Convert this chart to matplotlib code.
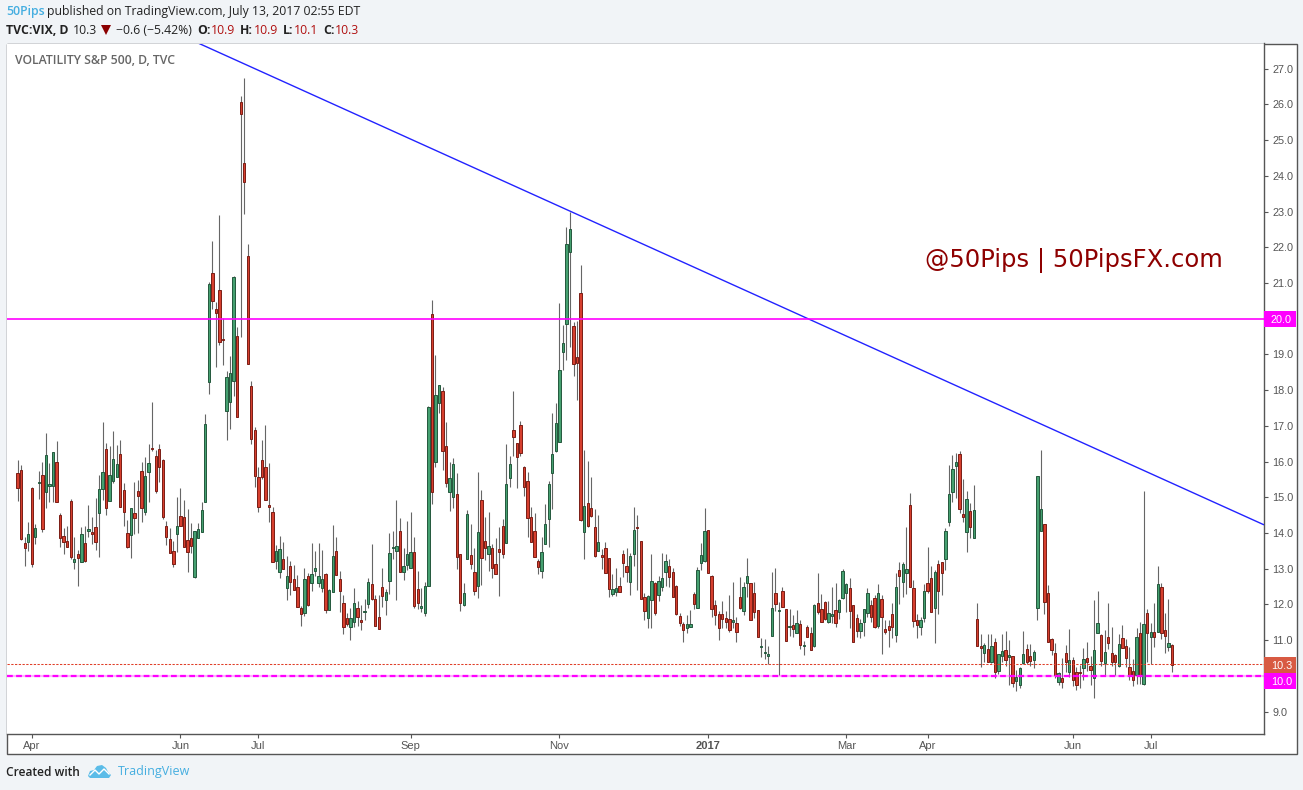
import matplotlib
matplotlib.use("Agg")
import matplotlib.pyplot as plt
from matplotlib.patches import Rectangle, Polygon

# ---- data (VIX daily candles) ----
directions = ("RRRGRGGRGG" "GRRRRRGRGR" "GRRGGRGGGR" "RRGRRRGGRR" "RRRRRGRRRR"
              "GGGGGRRRRG" "GGRRRRRRRR" "RRRGGRGRRR" "RGRGGGGRGG" "RRRRGGRRGG"
              "RRRRGGGGRG" "GGRRGGGRGG" "RRGGRRGGRR" "GRRGRRRRGG" "RRRRRRRRGG"
              "GGGGGGGRRR" "GRRRGRRRGG" "RRRGGRRRGG" "RGGGRRRRRG" "GRGGGRRRRR"
              "RRGRRGGRRR" "GGGGRGRRGR" "GRGRRGRRRG" "GRGGGRRRGG" "GRRGRRRRGR"
              "GGRRRGGRRG" "RRGGGGRRGR" "GRRGRGRGGR" "GRGGGRRGGG" "RRRRGRRGRR"
              "RGRRGGRGRR" "RGRRRRGRGR" "GRGRRGR")

highs = [
 16.05,15.91,13.90,14.32,15.30,14.26,15.75,16.00,16.80,15.97,
 16.27,16.57,14.57,14.15,14.20,14.96,13.90,13.53,14.18,14.20,
 14.79,14.46,14.99,15.62,17.11,16.53,16.43,16.86,16.47,16.61,
 15.40,14.36,14.70,15.44,15.49,16.00,16.14,16.50,17.67,16.32,
 16.49,16.08,14.33,14.15,13.77,15.01,15.27,14.93,14.68,14.29,
 14.07,14.29,14.88,17.33,21.03,22.17,20.47,22.90,20.03,18.54,
 18.97,21.21,19.78,26.24,26.74,22.09,18.27,16.98,15.84,16.61,
 17.03,15.96,14.73,13.67,13.91,13.76,13.35,13.21,13.10,12.82,
 11.96,13.03,12.87,13.72,13.49,13.72,13.52,12.87,12.43,14.22,
 13.89,12.95,12.26,11.76,11.89,12.47,12.09,11.98,12.14,12.75,
 13.69,12.26,12.26,13.01,12.43,14.01,14.07,14.92,14.43,13.57,
 14.33,14.59,13.89,12.94,12.47,12.63,17.57,20.53,18.99,18.14,
 18.09,17.11,16.00,16.11,15.68,13.42,12.61,14.65,14.26,13.58,
 15.72,15.21,14.46,14.59,13.69,13.86,14.18,14.40,16.50,16.16,
 17.98,16.52,17.14,15.88,15.72,14.73,14.57,13.27,13.89,14.82,
 15.46,17.36,17.65,20.45,19.83,22.56,23.00,19.91,19.93,21.51,
 16.33,16.02,15.58,14.68,14.51,13.55,13.75,13.30,12.86,13.02,
 12.78,13.53,13.58,13.44,14.72,14.50,13.77,12.32,12.26,13.42,
 12.63,12.79,13.45,13.42,13.27,13.01,12.54,11.76,11.51,11.71,
 11.84,12.35,13.05,13.72,14.71,14.09,12.83,12.12,11.83,12.10,
 11.81,12.26,12.63,11.65,12.77,12.63,13.30,12.60,12.63,11.85,
 11.06,11.03,10.83,12.91,13.02,12.07,12.49,11.87,11.87,11.71,
 11.84,11.56,10.97,11.42,11.37,12.01,12.89,12.29,12.10,12.09,
 12.49,12.61,12.15,12.99,12.61,12.74,11.99,11.73,11.59,11.87,
 12.46,12.13,12.27,12.58,12.27,11.57,11.57,12.05,12.88,13.19,
 13.19,14.17,15.13,12.69,11.73,11.66,12.57,13.61,13.08,12.97,
 13.25,13.20,14.14,15.91,16.19,16.25,16.30,15.51,15.18,14.84,
 15.34,12.05,11.18,10.92,11.18,11.18,11.06,10.62,11.18,11.26,
 11.01,10.55,10.17,10.26,11.26,10.89,10.89,10.72,15.59,16.33,
 14.25,12.55,11.06,10.92,10.12,10.50,10.87,11.31,10.54,10.26,
 10.32,10.78,10.95,10.55,12.13,12.37,11.18,11.28,12.05,11.37,
 10.62,11.17,11.42,11.03,10.82,10.48,11.35,11.51,15.18,11.88,
 11.49,12.05,13.08,12.60,11.77,12.16,10.90]

body_tops = [
 15.68,15.76,13.72,13.97,15.26,14.14,15.43,15.62,16.18,15.37,
 16.27,15.99,14.50,13.91,13.77,14.89,13.27,13.41,13.97,13.72,
 14.11,14.03,14.17,15.23,15.71,16.35,15.62,16.07,15.93,16.21,
 15.20,14.00,14.70,14.56,15.17,15.73,15.59,15.96,16.39,16.15,
 16.35,16.04,14.19,13.83,13.49,14.19,14.47,14.45,13.80,13.86,
 14.05,14.11,14.64,17.05,20.97,21.28,20.27,20.80,19.41,18.37,
 18.49,21.18,19.52,26.06,24.37,21.77,18.11,16.88,15.56,16.04,
 15.84,14.78,14.60,13.51,13.54,13.28,12.81,13.09,12.72,12.50,
 11.91,12.72,12.79,12.84,13.03,12.81,12.70,12.84,12.41,13.35,
 13.51,12.70,12.05,11.63,11.63,12.03,11.91,11.58,11.81,12.62,
 12.56,12.16,11.66,12.50,12.36,13.43,13.61,13.63,14.07,13.09,
 13.41,13.46,13.46,12.43,11.95,12.51,17.53,20.13,17.86,18.14,
 17.97,16.43,15.54,15.93,15.09,13.41,12.32,14.53,13.38,12.91,
 14.03,14.92,13.77,13.63,13.58,13.13,13.55,14.19,15.37,15.93,
 16.88,16.52,17.02,15.85,15.45,14.45,14.05,13.21,13.47,14.25,
 15.37,16.21,17.08,18.56,19.32,22.09,22.51,19.79,18.93,20.72,
 14.75,14.84,14.70,14.17,13.75,13.38,13.58,13.30,12.42,12.46,
 12.53,13.41,13.07,13.35,14.08,14.16,13.77,12.21,12.23,12.65,
 12.60,12.65,12.74,13.21,13.07,12.91,12.51,11.67,11.45,11.45,
 11.45,12.29,12.96,13.38,14.05,14.08,12.79,11.98,11.73,11.73,
 11.62,11.59,11.56,11.48,12.21,12.49,12.79,12.60,12.32,11.84,
 10.83,10.65,10.61,11.90,12.32,11.84,12.37,11.87,11.39,11.42,
 11.48,11.45,10.86,11.37,11.20,11.98,12.04,11.87,12.07,11.76,
 11.73,11.84,12.12,12.94,12.57,12.46,11.98,11.62,11.48,11.87,
 12.32,11.98,12.18,12.32,12.15,11.31,11.39,11.73,12.49,12.96,
 13.13,12.99,14.78,12.46,11.56,11.56,12.37,12.60,12.74,12.91,
 13.13,13.19,14.05,15.09,15.79,15.98,16.21,14.54,14.95,14.61,
 14.64,11.59,10.83,10.86,10.75,10.83,10.95,10.61,10.69,10.72,
 10.58,10.55,9.98,10.23,10.61,10.75,10.55,10.67,15.59,14.67,
 14.25,12.32,11.03,10.64,10.07,9.94,10.64,10.44,10.44,10.10,
 10.10,10.47,10.50,10.29,10.72,11.48,11.14,10.67,11.09,10.64,
 10.58,10.89,11.06,10.83,10.26,10.15,11.09,11.20,11.45,11.76,
 11.23,11.23,12.57,12.49,11.28,10.92,10.86]

body_bottoms = [
 15.25,13.82,13.57,13.74,13.12,13.88,15.39,14.10,15.14,15.33,
 15.33,14.86,13.85,13.74,13.62,13.34,13.18,13.29,13.20,13.23,
 14.07,13.96,13.76,14.55,15.22,14.69,14.91,15.47,15.56,14.72,
 14.58,13.62,13.94,14.41,15.05,14.69,14.58,15.72,16.34,15.19,
 15.85,14.44,13.90,13.43,13.12,13.96,14.21,13.62,13.48,13.65,
 12.78,13.85,14.02,14.88,18.24,20.51,20.15,19.36,19.40,17.41,
 17.66,18.25,17.24,25.74,23.83,18.72,16.62,15.61,14.74,15.56,
 14.93,14.74,13.18,13.22,12.90,13.00,12.46,12.64,12.41,11.93,
 11.74,11.77,11.99,12.61,12.93,12.59,12.46,11.86,11.86,12.36,
 12.83,12.38,11.37,11.46,11.37,11.52,11.65,11.51,11.79,12.02,
 12.16,11.40,11.32,12.25,12.13,12.66,13.57,13.50,12.91,12.92,
 13.11,13.02,11.96,12.03,11.89,11.75,12.53,15.16,15.98,17.63,
 16.31,15.39,15.14,15.00,13.32,12.03,12.00,13.26,13.12,12.39,
 12.53,13.29,13.57,13.40,13.01,12.84,13.48,13.40,13.71,15.53,
 16.70,16.12,16.23,15.28,14.41,13.76,13.34,13.04,12.93,13.68,
 14.38,15.67,16.31,16.54,19.08,19.84,21.86,18.72,18.75,14.37,
 14.02,14.19,14.49,13.37,13.51,13.34,12.87,12.42,12.28,12.35,
 12.34,13.15,12.90,12.63,13.41,14.14,12.15,11.81,11.61,12.12,
 11.75,12.26,12.49,12.91,12.78,12.20,11.73,11.47,11.28,11.34,
 11.38,12.01,11.90,13.16,13.21,12.88,11.87,11.70,11.34,11.59,
 11.50,11.28,11.51,11.24,11.90,11.81,12.60,11.56,11.79,11.08,
 10.80,10.64,10.57,11.11,12.01,11.81,11.94,10.99,11.38,11.31,
 11.20,10.88,10.85,11.09,10.74,10.85,11.79,11.51,11.59,11.50,
 11.67,11.48,11.79,12.19,12.31,11.83,10.96,11.25,11.27,11.50,
 11.75,11.66,11.36,11.41,11.64,11.22,11.30,11.37,11.16,12.81,
 12.64,12.87,12.50,11.55,11.44,11.38,11.61,12.39,11.80,11.89,
 12.39,12.87,13.26,14.32,15.16,15.89,14.66,14.44,14.03,14.16,
 13.85,10.85,10.77,10.63,10.38,10.40,10.12,10.15,10.57,10.46,
 10.53,9.79,9.87,9.76,10.35,10.40,10.43,10.46,11.89,14.07,
 12.06,10.94,10.74,10.04,9.84,9.82,10.38,10.10,9.90,9.76,
 10.07,10.21,10.40,10.18,9.93,11.19,10.43,10.35,10.91,10.38,
 10.38,10.29,10.78,10.49,10.04,9.90,10.04,10.04,9.78,11.19,
 11.08,11.08,11.23,11.19,11.13,10.80,10.30]

lows = [
 14.90,13.80,13.08,13.51,13.04,13.70,14.96,14.04,14.71,14.88,
 14.86,14.86,13.62,13.42,13.62,13.26,13.00,12.52,13.20,13.18,
 13.90,13.70,13.53,13.34,14.93,14.51,14.91,15.41,15.56,14.72,
 14.20,13.59,13.31,13.98,14.01,14.32,14.51,14.88,16.30,15.13,
 15.44,14.40,13.67,13.43,13.06,13.48,14.21,13.62,12.92,13.44,
 12.75,13.85,14.02,14.88,17.90,20.28,18.66,19.27,18.71,16.60,
 16.90,17.83,17.24,19.49,22.94,18.72,16.48,15.29,14.60,15.50,
 14.93,14.32,13.18,12.99,12.74,13.00,12.13,12.27,12.41,11.93,
 11.40,11.68,11.96,12.37,12.81,12.48,12.36,11.76,11.86,12.36,
 12.83,11.78,11.17,11.39,11.01,11.37,11.39,11.29,11.56,11.89,
 12.13,11.40,11.32,11.93,11.71,12.30,13.28,12.13,12.91,12.68,
 12.97,13.02,11.89,11.88,11.80,11.69,12.53,14.80,15.86,17.36,
 15.77,15.30,14.62,14.71,13.00,11.81,11.96,13.26,13.00,12.27,
 12.17,12.55,13.25,12.95,12.73,12.84,12.24,13.31,13.71,15.30,
 16.16,15.27,16.16,15.05,13.90,13.76,13.32,12.86,12.75,13.68,
 13.62,14.68,16.28,16.54,18.57,18.85,19.21,18.40,17.73,14.34,
 13.28,14.17,14.44,13.34,13.51,13.00,12.87,12.20,12.23,12.23,
 12.34,12.77,12.64,12.27,13.09,12.41,12.15,11.57,11.35,11.33,
 11.71,12.10,12.37,12.52,12.49,12.20,11.71,11.41,10.95,11.19,
 11.38,11.88,11.90,12.97,13.19,12.88,11.66,11.43,11.01,11.34,
 11.34,11.24,11.34,10.95,11.87,11.70,12.20,11.56,11.62,11.08,
 10.54,10.47,10.34,11.11,11.82,10.02,11.94,10.99,11.11,11.10,
 11.19,10.76,10.59,11.09,10.74,10.82,11.73,11.51,11.56,11.47,
 11.48,11.37,11.59,12.16,11.80,11.35,10.96,11.09,11.07,11.12,
 11.66,11.50,11.33,11.33,10.62,11.18,10.81,11.07,10.96,12.02,
 12.21,12.30,12.50,11.38,11.07,11.15,11.51,12.31,11.80,10.93,
 11.74,12.27,12.97,14.20,14.88,14.98,14.56,14.31,13.47,13.86,
 13.85,10.85,10.26,10.40,10.38,10.36,9.93,10.05,10.40,10.29,
 9.75,9.70,9.59,9.65,10.33,10.33,10.29,10.21,11.57,14.07,
 11.74,10.94,10.60,9.93,9.76,9.67,10.12,9.96,9.73,9.62,
 9.65,9.89,10.15,9.75,9.39,11.19,10.29,10.02,10.76,10.29,
 10.02,10.26,10.78,10.26,9.89,9.73,9.78,9.78,9.76,10.40,
 10.34,10.82,11.23,11.03,10.65,10.71,10.10]

rising = [d == "G" for d in directions]

price_ticks = [9, 11, 12, 13, 14, 15, 16, 17, 18, 19, 21, 22, 23, 24, 25, 26, 27]
month_labels = ["Apr", "Jun", "Jul", "Sep", "Nov", "2017", "Mar", "Apr", "Jun", "Jul"]
month_bars = [4, 46, 68, 111, 153, 195, 234, 257, 298, 320]
trend_bars = [50.72, 352.0]
trend_prices = [27.73, 14.23]
level_major = 20.0
level_minor = 10.0
last_price = 10.33

W, H = 1303, 790
BG = "#F1F4F7"
DARK = "#555555"
plt.rcParams["font.family"] = ["Liberation Sans", "DejaVu Sans"]

fig = plt.figure(figsize=(W / 100, H / 100), dpi=100, facecolor=BG)

def fx(x):
    return x / W

def fy(y):
    return 1 - y / H

fig.patches.append(Rectangle((fx(6.5), fy(753.5)), (1296.5 - 6.5) / W, (753.5 - 43.5) / H,
                             transform=fig.transFigure, facecolor="white",
                             edgecolor=DARK, linewidth=1.0, zorder=-5))

ax = fig.add_axes([fx(6.5), fy(734), (1264.5 - 6.5) / W, (734 - 43.5) / H])
ax.set_facecolor("white")
x0, dx = 17.6, 3.541
ax.set_xlim((6.5 - x0) / dx, (1264.5 - x0) / dx)
ppu = 35.72
ax.set_ylim(27 - (734 - 68.7) / ppu, 27 + (68.7 - 43.5) / ppu)

bars = list(range(len(highs)))
WICK = "#666666"
GREEN_FILL, GREEN_EDGE = "#45A070", "#24583D"
RED_FILL, RED_EDGE = "#D63F2E", "#7A1D15"
ax.vlines(bars, lows, highs, color=WICK, linewidth=0.8, zorder=2)
fills = [GREEN_FILL if r else RED_FILL for r in rising]
edges = [GREEN_EDGE if r else RED_EDGE for r in rising]
heights = [max(t - b, 0.02) for t, b in zip(body_tops, body_bottoms)]
ax.bar(bars, heights, bottom=body_bottoms, width=0.66, color=fills, edgecolor=edges,
       linewidth=0.7, zorder=3)

ax.plot(trend_bars, trend_prices, color="#2222FF", linewidth=1.0, zorder=4,
        solid_capstyle="butt", clip_on=True)
ax.axhline(level_major, color="#FF00FF", linewidth=1.2, zorder=4)
ax.axhline(level_minor, color="#FF00FF", linewidth=1.6, alpha=0.3, zorder=4)
ax.axhline(level_minor, color="#FF00FF", linewidth=1.6, zorder=4, linestyle=(0, (2.6, 1.5)))
ax.axhline(last_price, color="#E0402A", linewidth=0.75, zorder=4, linestyle=(0, (2.2, 1.4)))

for s in ("top", "left"):
    ax.spines[s].set_visible(False)
for s in ("right", "bottom"):
    ax.spines[s].set_color(DARK)
    ax.spines[s].set_linewidth(1.0)

ax.yaxis.tick_right()
ax.set_yticks(price_ticks)
ax.set_yticklabels([f"{v:.1f}" for v in price_ticks])
ax.tick_params(axis="y", length=3, width=0.8, color=DARK, labelcolor="#555555",
               labelsize=7.8, pad=2.5)
ax.set_xticks(month_bars)
ax.set_xticklabels(month_labels)
ax.tick_params(axis="x", length=3, width=0.8, color=DARK, labelcolor="#555555",
               labelsize=8, pad=2)
for lab, name in zip(ax.get_xticklabels(), month_labels):
    if name == "2017":
        lab.set_fontweight("bold")

ytr = ax.get_yaxis_transform()
box_w = 31.5 / (1264.5 - 6.5)
box_h = 16 / ppu
for centre, color, txt in [(level_major, "#FF00FF", "20.0"),
                           (10.31, "#D85A42", "10.3"),
                           (9.87, "#FF00FF", "10.0")]:
    ax.add_patch(Rectangle((1.0, centre - box_h / 2), box_w, box_h, transform=ytr,
                           facecolor=color, edgecolor="none", clip_on=False, zorder=5))
    ax.text(1.0 + 6.5 / 1258, centre, txt, transform=ytr, color="white", fontsize=7.8,
            va="center_baseline", ha="left", zorder=6, clip_on=False)

# header
UI = ["Open Sans", "DejaVu Sans"]
def label(x, y, s, color="#222222", weight="normal", size=8.8, family=UI):
    fig.text(fx(x), fy(y), s, color=color, fontweight=weight, fontsize=size,
             family=family, va="center", ha="left")

label(6, 11.5, "50Pips", color="#45AEE0", weight="semibold")
label(47, 11.5, "published on TradingView.com, July 13, 2017 02:55 EDT")
label(6, 30, "TVC:VIX, D", weight="bold")
label(73, 30, "10.3")
fig.patches.append(Polygon([(fx(101), fy(25)), (fx(111), fy(25)), (fx(106), fy(35))],
                           transform=fig.transFigure, facecolor="#8B0000", edgecolor="none"))
label(116, 30, "\u22120.6 (\u22125.42%)")
DR = "#B01010"
for x, s, c, w in [(197, "O:", "#222222", "bold"), (211, "10.9", DR, "normal"),
                   (240, "H:", "#222222", "bold"), (254, "10.9", DR, "normal"),
                   (283, "L:", "#222222", "bold"), (294, "10.1", DR, "normal"),
                   (323, "C:", "#222222", "bold"), (335, "10.3", DR, "normal")]:
    label(x, 30, s, color=c, weight=w)

label(15, 60.5, "VOLATILITY S&P 500, D, TVC", color="#666666", weight="semibold", size=8.8)
label(925, 260.5, "@50Pips | 50PipsFX.com", color="#8E0000", size=17.5, family=["DejaVu Sans"])

# footer
label(6, 772, "Created with", color="#222222", weight="semibold", size=8.6)
label(118, 772, "TradingView", color="#45AEE0", size=9)
cloud = [(88, 776), (90, 771), (94, 770), (97, 766), (102, 765), (106, 768), (108, 772),
         (111, 775), (109, 778), (90, 778)]
fig.patches.append(Polygon([(fx(a), fy(b)) for a, b in cloud], transform=fig.transFigure,
                           facecolor="#5BBCE8", edgecolor="none"))
zig = [(90, 775), (95, 770), (99, 774), (104, 769), (109, 774)]
fig.lines.append(plt.Line2D([fx(a) for a, b in zig], [fy(b) for a, b in zig],
                            transform=fig.transFigure, color="white", linewidth=1.0))

fig.savefig("out.png", dpi=100, facecolor=BG)
